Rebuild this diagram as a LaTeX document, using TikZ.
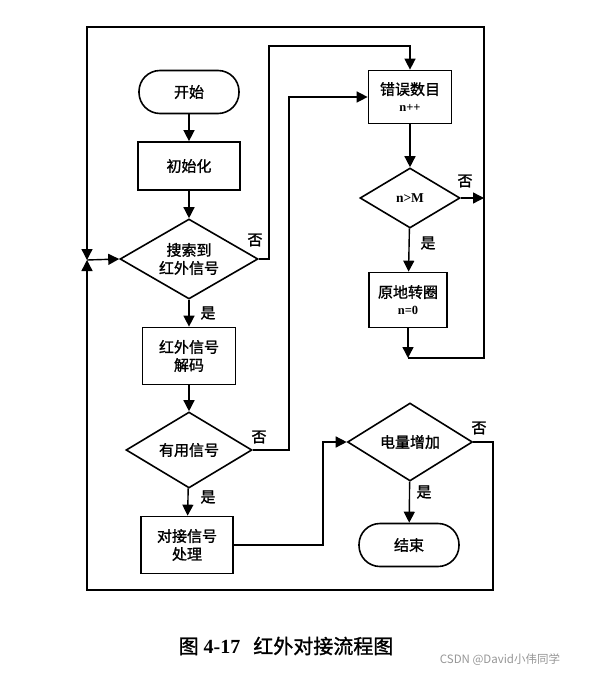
\documentclass[tikz,border=0pt]{standalone}
\usepackage{fontspec}
\setmainfont{Liberation Serif}
\newfontfamily\cjk[FakeBold=1.3]{Noto Sans CJK SC}
\newfontfamily\cjkplain{Noto Sans CJK SC}
\usetikzlibrary{shapes.geometric,arrows.meta}
\definecolor{wm}{RGB}{150,150,150}
\begin{document}
\begin{tikzpicture}[x=1pt,y=-1pt,
  every node/.style={font=\cjk\fontsize{15}{18}\selectfont},
  procbox/.style={draw, line width=1.7pt, inner sep=0pt, align=center, minimum width=#1},
  termbox/.style={draw, line width=1.6pt, rounded corners=21pt, inner sep=0pt, minimum width=100pt, minimum height=43pt},
  decide/.style={draw, diamond, line width=1.6pt, inner sep=-16pt, align=center},
  lbl/.style={inner sep=0pt},
  arr/.style={line width=1.4pt, -{Triangle[length=11pt,width=11pt]}},
  ln/.style={line width=1.4pt}
]
\useasboundingbox (0,0) rectangle (592,676);
% nodes
\node[termbox] (start) at (189,92) {开始};
\node[procbox=102pt, minimum height=48pt] (init) at (189,166) {初始化};
\node[decide, minimum width=138pt, minimum height=80pt] (d1) at (189,259) {搜索到\\[0pt]红外信号};
\node[procbox=93pt, minimum height=57pt] (dec) at (189,356) {红外信号\\[0pt]解码};
\node[decide, minimum width=126pt, minimum height=76pt] (d2) at (189,450) {有用信号};
\node[procbox=92pt, minimum height=57pt] (proc) at (187,545) {对接信号\\[0pt]处理};
\node[procbox=83pt, minimum height=53pt] (err) at (410,97) {错误数目\\[-1pt]{\rmfamily\bfseries\fontsize{12.5}{14}\selectfont n++}};
\node[decide, minimum width=100pt, minimum height=60pt] (nm) at (410,198) {\rmfamily\bfseries\fontsize{13.5}{15}\selectfont n>M};
\node[procbox=78pt, minimum height=55pt] (spin) at (408,300) {原地转圈\\[-1pt]{\rmfamily\bfseries\fontsize{12.5}{14}\selectfont n=0}};
\node[decide, minimum width=125pt, minimum height=78pt] (d3) at (410,442) {电量增加};
\node[termbox] (end) at (409,545) {结束};
% labels
\node[lbl] (n1) at (255,240) {否};
\node[lbl] (y1) at (208,313) {是};
\node[lbl] (n2) at (259,437) {否};
\node[lbl] (y2) at (208,497) {是};
\node[lbl] (n3) at (465,181) {否};
\node[lbl] (y3) at (428,243) {是};
\node[lbl] (n4) at (479,428) {否};
\node[lbl] (y4) at (424,492) {是};
% coordinates
\coordinate (jn) at (87,260);
\coordinate (t1) at (269,46);
\coordinate (t2) at (289,97);
\coordinate (j3) at (323,442);
\coordinate (r1) at (493,590);
\coordinate (l1) at (87,590);
\coordinate (b1) at (408,358);
\coordinate (rt) at (484,27);
\coordinate (lt) at (87,27);
\coordinate (nmr) at (484,198);
% connectors
\draw[arr] (start) -- (init);
\draw[arr] (init) -- (d1);
\draw[arr] (d1) -- (dec);
\draw[arr] (dec) -- (d2);
\draw[arr] (d2) -- (proc);
\draw[arr] (proc.east) -| (j3) -- (d3.west);
\draw[arr] (d3) -- (end);
\draw[arr] (d3.east) -| (r1) -- (l1) -- (jn);
\draw[arr] (spin) -- (b1);
\draw[arr] (b1) -| (rt) -- (lt) -- (jn);
\draw[arr] (jn) -- (d1.west);
\draw[arr] (d1.east) -| (t1) -| (err.north);
\draw[arr] (d2.east) -| (t2) -- (err.west);
\draw[arr] (err) -- (nm);
\draw[arr] (nm) -- (spin);
\draw[arr] (nm.east) -- (nmr);
% caption
\node (cap) at (286,646) {\cjk\fontsize{20}{23}\selectfont 图\hspace{0.25em}{\rmfamily\bfseries 4-17}\hspace{0.65em}红外对接流程图};
\node[text=wm] (wmk) at (500,660) {\cjkplain\fontsize{11.5}{13}\selectfont CSDN @David小伟同学};
\end{tikzpicture}
\end{document}
